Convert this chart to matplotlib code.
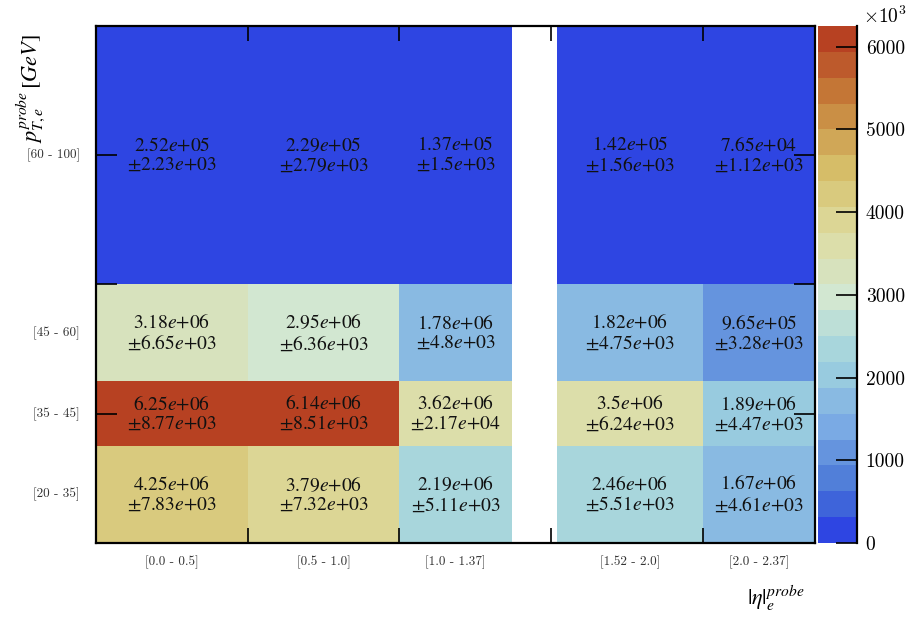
import numpy as np
import matplotlib
matplotlib.use("Agg")
import matplotlib.pyplot as plt
from matplotlib.colors import LinearSegmentedColormap, ListedColormap, BoundaryNorm
from matplotlib.ticker import FuncFormatter
from matplotlib.transforms import offset_copy

plt.rcParams["mathtext.fontset"] = "stix"
plt.rcParams["font.family"] = "STIXGeneral"

# binning
eta_edges = [0.0, 0.5, 1.0, 1.37, 1.52, 2.0, 2.37]
pt_edges = [20, 35, 45, 60, 100]
eta_labels = ["[0.0 - 0.5]", "[0.5 - 1.0]", "[1.0 - 1.37]", None, "[1.52 - 2.0]", "[2.0 - 2.37]"]
pt_labels = ["[20 - 35]", "[35 - 45]", "[45 - 60]", "[60 - 100]"]

# counts per (pt row, eta column); crack bin 1.37-1.52 is empty
counts = np.array([
    [4.25e6, 3.79e6, 2.19e6, np.nan, 2.46e6, 1.67e6],
    [6.25e6, 6.14e6, 3.62e6, np.nan, 3.50e6, 1.89e6],
    [3.18e6, 2.95e6, 1.78e6, np.nan, 1.82e6, 9.65e5],
    [2.52e5, 2.29e5, 1.37e5, np.nan, 1.42e5, 7.65e4],
])
errors = np.array([
    [7.83e3, 7.32e3, 5.11e3, np.nan, 5.51e3, 4.61e3],
    [8.77e3, 8.51e3, 2.17e4, np.nan, 6.24e3, 4.47e3],
    [6.65e3, 6.36e3, 4.80e3, np.nan, 4.75e3, 3.28e3],
    [2.23e3, 2.79e3, 1.50e3, np.nan, 1.56e3, 1.12e3],
])

# light-temperature palette, 20 contour levels
stops_r = [31, 71, 123, 160, 210, 222, 214, 199, 183]
stops_g = [40, 117, 171, 211, 231, 220, 190, 132, 65]
stops_b = [234, 214, 228, 222, 210, 160, 105, 60, 34]
base = LinearSegmentedColormap.from_list(
    "lighttemp", [(r / 255, g / 255, b / 255) for r, g, b in zip(stops_r, stops_g, stops_b)])
n_levels = 20
level_colors = [base(int((k + 0.99) * 255 / n_levels) / 254) for k in range(n_levels)]
cmap = ListedColormap(level_colors)
cmap.set_over(level_colors[-1])
cmap.set_bad((1, 1, 1, 0))
zmax = np.nanmax(counts)
bounds = np.linspace(0, zmax, n_levels + 1)
norm = BoundaryNorm(bounds, cmap.N)

fig = plt.figure(figsize=(9.16, 6.19), dpi=100)
ax = fig.add_axes([0.1048, 0.1228, 0.785, 0.8352])
cax = fig.add_axes([0.893, 0.1228, 0.043, 0.8352])

mesh = ax.pcolormesh(eta_edges, pt_edges, np.ma.masked_invalid(counts),
                     cmap=cmap, norm=norm, shading="flat")
ax.set_xlim(eta_edges[0], eta_edges[-1])
ax.set_ylim(pt_edges[0], pt_edges[-1])

# cell annotations
eta_c = 0.5 * (np.array(eta_edges[:-1]) + np.array(eta_edges[1:]))
pt_c = 0.5 * (np.array(pt_edges[:-1]) + np.array(pt_edges[1:]))
for i, yc in enumerate(pt_c):
    for j, xc in enumerate(eta_c):
        if np.isnan(counts[i, j]):
            continue
        val = f"{counts[i, j]:.3g}".replace("e", "$e$")
        err = f"{errors[i, j]:.3g}".replace("e", "$e$")
        ax.text(xc, yc, f"{val}\n\u00b1{err}", ha="center", va="center",
                fontsize=14, color="#111111", linespacing=1.12)

# major ticks without labels
ax.set_xticks([0.5, 1.0, 1.5, 2.0])
ax.set_yticks([20, 40, 60, 80, 100])
ax.set_xticklabels([])
ax.set_yticklabels([])
ax.tick_params(axis="x", which="major", direction="in", length=11, width=1.2,
               top=True, bottom=True)
ax.tick_params(axis="y", which="major", direction="in", length=15, width=1.2,
               left=True, right=True)
for sp in ax.spines.values():
    sp.set_linewidth(1.6)

# bin labels at bin centres
lab_kw = dict(fontfamily="cmr10", fontsize=9.5, color="#333333")
xtr = offset_copy(ax.get_xaxis_transform(), fig=fig, y=-19, units="dots")
for xc, lab in zip(eta_c, eta_labels):
    if lab is not None:
        ax.text(xc, 0, lab, transform=xtr, ha="center", va="center", **lab_kw)
ytr = offset_copy(ax.get_yaxis_transform(), fig=fig, x=-16, units="dots")
for yc, lab in zip(pt_c, pt_labels):
    ax.text(0, yc, lab, transform=ytr, ha="right", va="center", **lab_kw)

fig.text(0.034, 0.945, r"$p_{T,e}^{probe}\,[GeV]$", rotation=90,
         ha="center", va="top", fontsize=16)
fig.text(0.879, 0.034, r"$|\eta|_{e}^{probe}$", ha="right", va="center", fontsize=16)

# palette axis
cb = fig.colorbar(mesh, cax=cax, boundaries=bounds, spacing="proportional")
cb.outline.set_visible(False)
cax.plot([1, 1], [0, 1], transform=cax.transAxes, color="black", lw=1.6, clip_on=False)
cb.set_ticks(np.arange(0, 6001e3, 1000e3))
cb.ax.yaxis.set_major_formatter(FuncFormatter(lambda v, p: f"{v / 1e3:.0f}"))
cax.tick_params(direction="in", length=15, width=1.2, labelsize=14, pad=6)
for lab in cax.get_yticklabels():
    lab.set_fontfamily("cmr10")
cax.minorticks_off()
fig.text(0.942, 0.973, r"$\times10^{3}$", ha="left", va="center", fontsize=14,
         fontfamily="cmr10", math_fontfamily="cm")

fig.savefig("out.png", dpi=100)
